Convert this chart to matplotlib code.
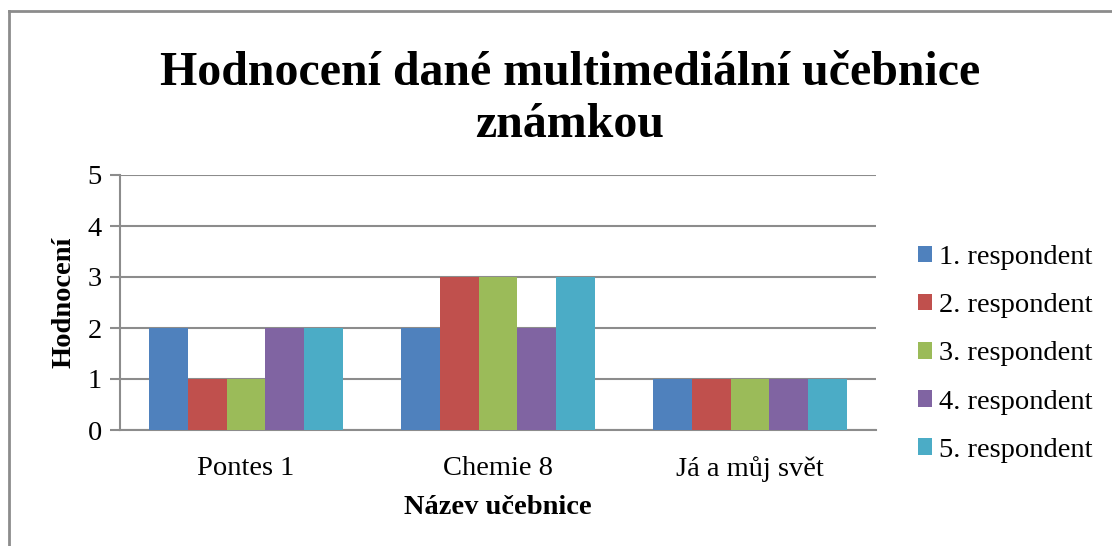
import matplotlib
matplotlib.use("Agg")
import matplotlib.pyplot as plt
from matplotlib.lines import Line2D
import numpy as np

categories = ["Pontes 1", "Chemie 8", "Já a můj svět"]
series_names = ["1. respondent", "2. respondent", "3. respondent", "4. respondent", "5. respondent"]
r1 = [2, 2, 1]
r2 = [1, 3, 1]
r3 = [1, 3, 1]
r4 = [2, 2, 1]
r5 = [2, 3, 1]
series_values = [r1, r2, r3, r4, r5]
colors = ["#4F81BD", "#C0504D", "#9BBB59", "#8064A2", "#4BACC6"]
yticks = [0, 1, 2, 3, 4, 5]

plt.rcParams['font.family'] = ['Liberation Serif', 'DejaVu Serif']

fig = plt.figure(figsize=(11.12, 5.46), dpi=100)
ax = fig.add_axes([120/1112, 1 - 430/546, 756/1112, 255/546])

n = len(series_names)
bw = 1.0 / (n + 1.5)
x = np.arange(len(categories))
for i, (name, vals) in enumerate(zip(series_names, series_values)):
    offs = (i - (n - 1) / 2) * bw
    ax.bar(x + offs, vals, width=bw, color=colors[i], label=name, zorder=3,
           edgecolor='none')

ax.set_xlim(-0.5, len(categories) - 0.5)
ax.set_ylim(0, 5)
ax.set_yticks(yticks)
ax.set_yticklabels([str(t) for t in yticks], fontsize=20.5)
ax.set_xticks(x)
ax.set_xticklabels(categories, fontsize=20.5)
ax.tick_params(axis='x', length=0, pad=19)
ax.tick_params(axis='y', length=7, width=1.5, color='#8c8c8c', pad=6)
ax.yaxis.grid(True, color='#8c8c8c', linewidth=1.5, zorder=0)
for s in ['top', 'right']:
    ax.spines[s].set_visible(False)
for s in ['left', 'bottom']:
    ax.spines[s].set_color('#8c8c8c')
    ax.spines[s].set_linewidth(1.5)

ax.set_xlabel("Název učebnice", fontsize=20.5, fontweight='bold', labelpad=9)
ax.set_ylabel("Hodnocení", fontsize=20.5, fontweight='bold', labelpad=8)

fig.text(570/1112, 1 - 99/546, "Hodnocení dané multimediální učebnice\nznámkou",
         ha='center', va='center', fontsize=34.5, fontweight='bold', linespacing=1.22)

leg = fig.legend(loc='center left', bbox_to_anchor=(918/1112, 1 - 354/546), frameon=False,
                 fontsize=20.5, handlelength=0.5, handleheight=0.5, handletextpad=0.25,
                 labelspacing=0.81, borderpad=0, borderaxespad=0)

# outer border
fig.add_artist(Line2D([9/1112, 9/1112], [0, 1 - 11/546], transform=fig.transFigure,
                      color='#8c8c8c', linewidth=2))
fig.add_artist(Line2D([9/1112, 1], [1 - 11/546, 1 - 11/546], transform=fig.transFigure,
                      color='#8c8c8c', linewidth=2))

fig.savefig("out.png", dpi=100)
